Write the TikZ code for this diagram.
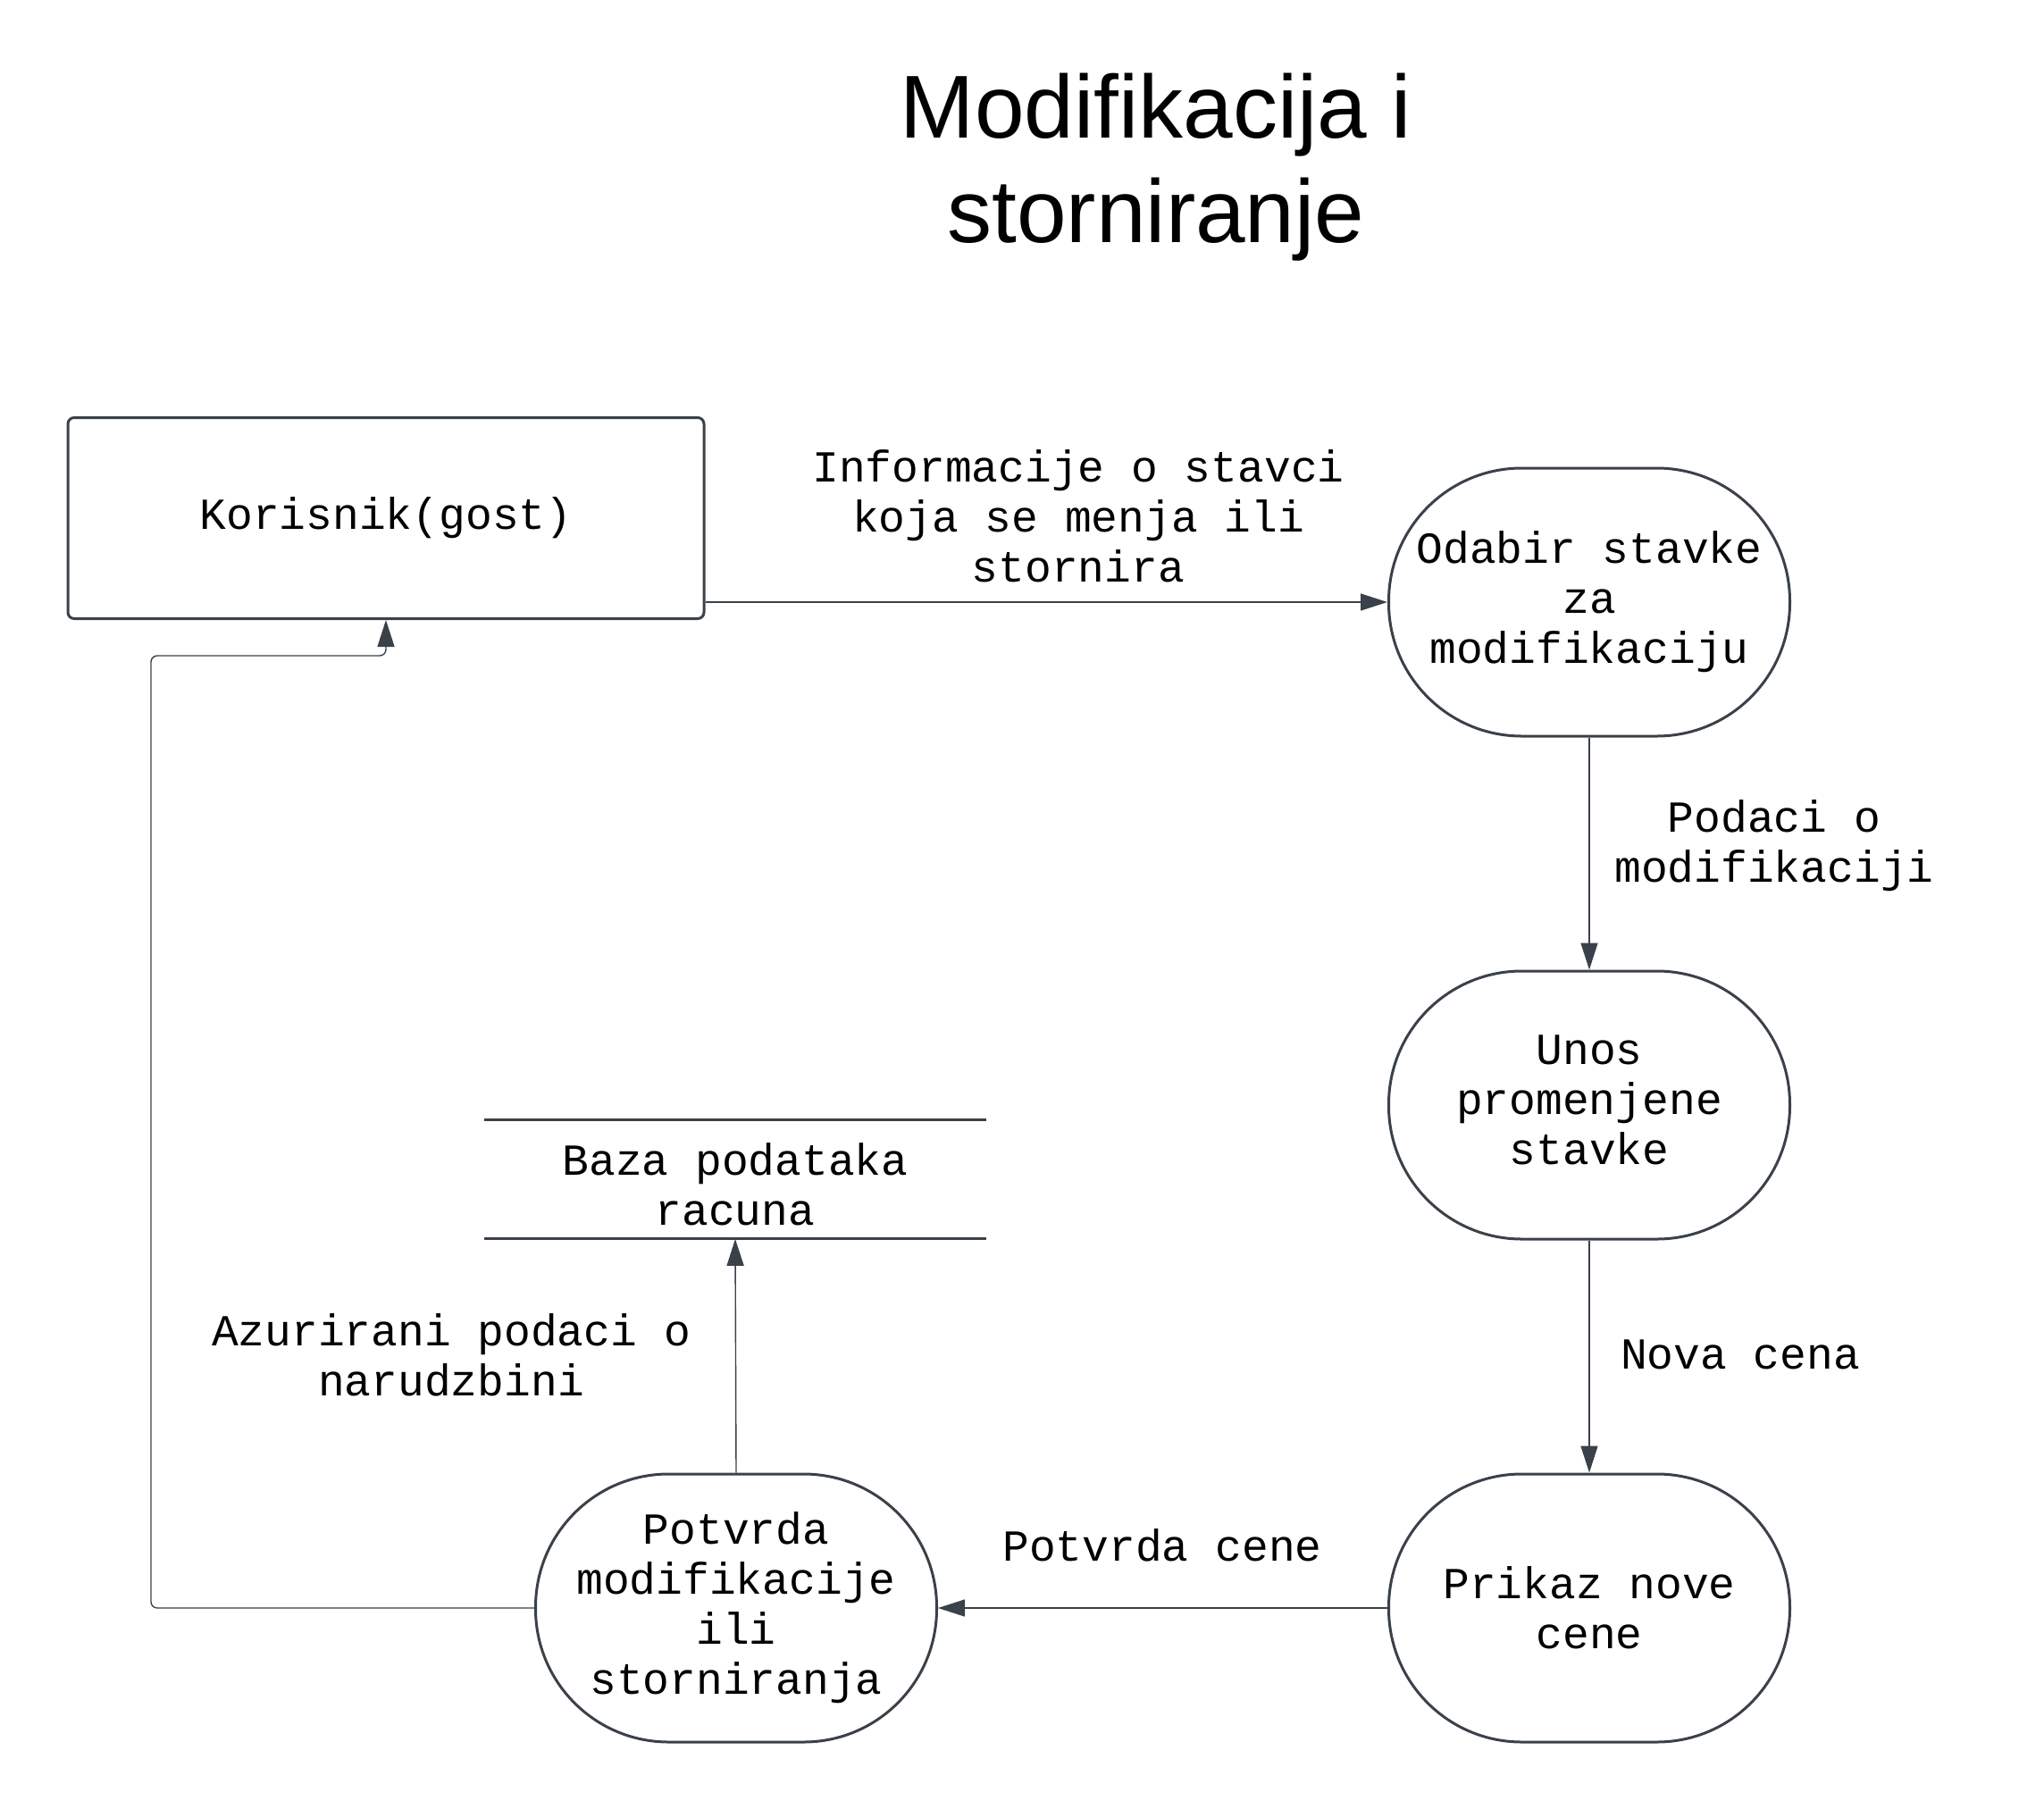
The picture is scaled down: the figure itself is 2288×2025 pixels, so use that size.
\documentclass[tikz,border=0pt]{standalone}
\usepackage{fontspec}
\setmainfont{Liberation Sans}
\setmonofont{Liberation Mono}
\usetikzlibrary{arrows.meta}
\definecolor{edgegray}{HTML}{3A414A}
\begin{document}
\begin{tikzpicture}[x=0.5pt,y=-0.5pt,
    txt/.style={font=\ttfamily\fontsize{24.8pt}{28pt}\selectfont,align=center,inner sep=0pt},
    proc/.style={draw=edgegray,line width=1.5pt,rounded corners=74.5pt,
      minimum width=224.5pt,minimum height=150pt},
    flow/.style={draw=edgegray,line width=0.7pt,-{Triangle[length=15pt,width=9.5pt]}}]
  \useasboundingbox (0,0) rectangle (2288,2025);
  \node[font=\fontsize{50pt}{58.5pt}\selectfont,align=center,inner sep=0pt] (naslov) at (1294,187) {Modifikacija i\\storniranje};
  \node[txt,draw=edgegray,line width=1.5pt,rounded corners=3.5pt,minimum width=356pt,minimum height=112.5pt] (korisnik) at (432,580) {Korisnik(gost)};
  \node[proc] (odabir) at (1779,674) {};
  \node[proc] (unos) at (1779,1237) {};
  \node[proc] (prikaz) at (1779,1800) {};
  \node[proc] (potvrda) at (824,1800) {};
  \node[txt] (odabirtxt) at (odabir) {Odabir stavke\\za\\modifikaciju};
  \node[txt] (unostxt) at (1779,1231) {Unos\\promenjene\\stavke};
  \node[txt] (prikaztxt) at (prikaz) {Prikaz nove\\cene};
  \node[txt] (potvrdatxt) at (potvrda) {Potvrda\\modifikacije\\ili\\storniranja};
  \node[minimum width=280.5pt,minimum height=66.5pt] (baza) at (823,1320) {};
  \node[txt] (bazatxt) at (823,1326) {Baza podataka\\racuna};
  \draw[edgegray,line width=1.5pt] (baza.north west) -- (baza.north east);
  \draw[edgegray,line width=1.5pt] (baza.south west) -- (baza.south east);

  \draw[flow] (korisnik.east |- odabir.west) -- (odabir.west);
  \draw[flow] (odabir.south) -- (unos.north);
  \draw[flow] (unos.south) -- (prikaz.north);
  \draw[flow] (prikaz.west) -- (potvrda.east);
  \draw[flow] (potvrda.north) -- (baza.south);
  \coordinate (povratak) at (169,734);
  \draw[flow,rounded corners=3.5pt] (potvrda.west) -| (povratak) -| (korisnik.south);

  \node[txt] (l1) at (1207,578) {Informacije o stavci\\koja se menja ili\\stornira};
  \node[txt] (l2) at (1986,947) {Podaci o\\modifikaciji};
  \node[txt] (l3) at (1948,1516) {Nova cena};
  \node[txt] (l4) at (1301,1730) {Potvrda cene};
  \node[txt] (l5) at (505,1517) {Azurirani podaci o\\narudzbini};
\end{tikzpicture}
\end{document}
